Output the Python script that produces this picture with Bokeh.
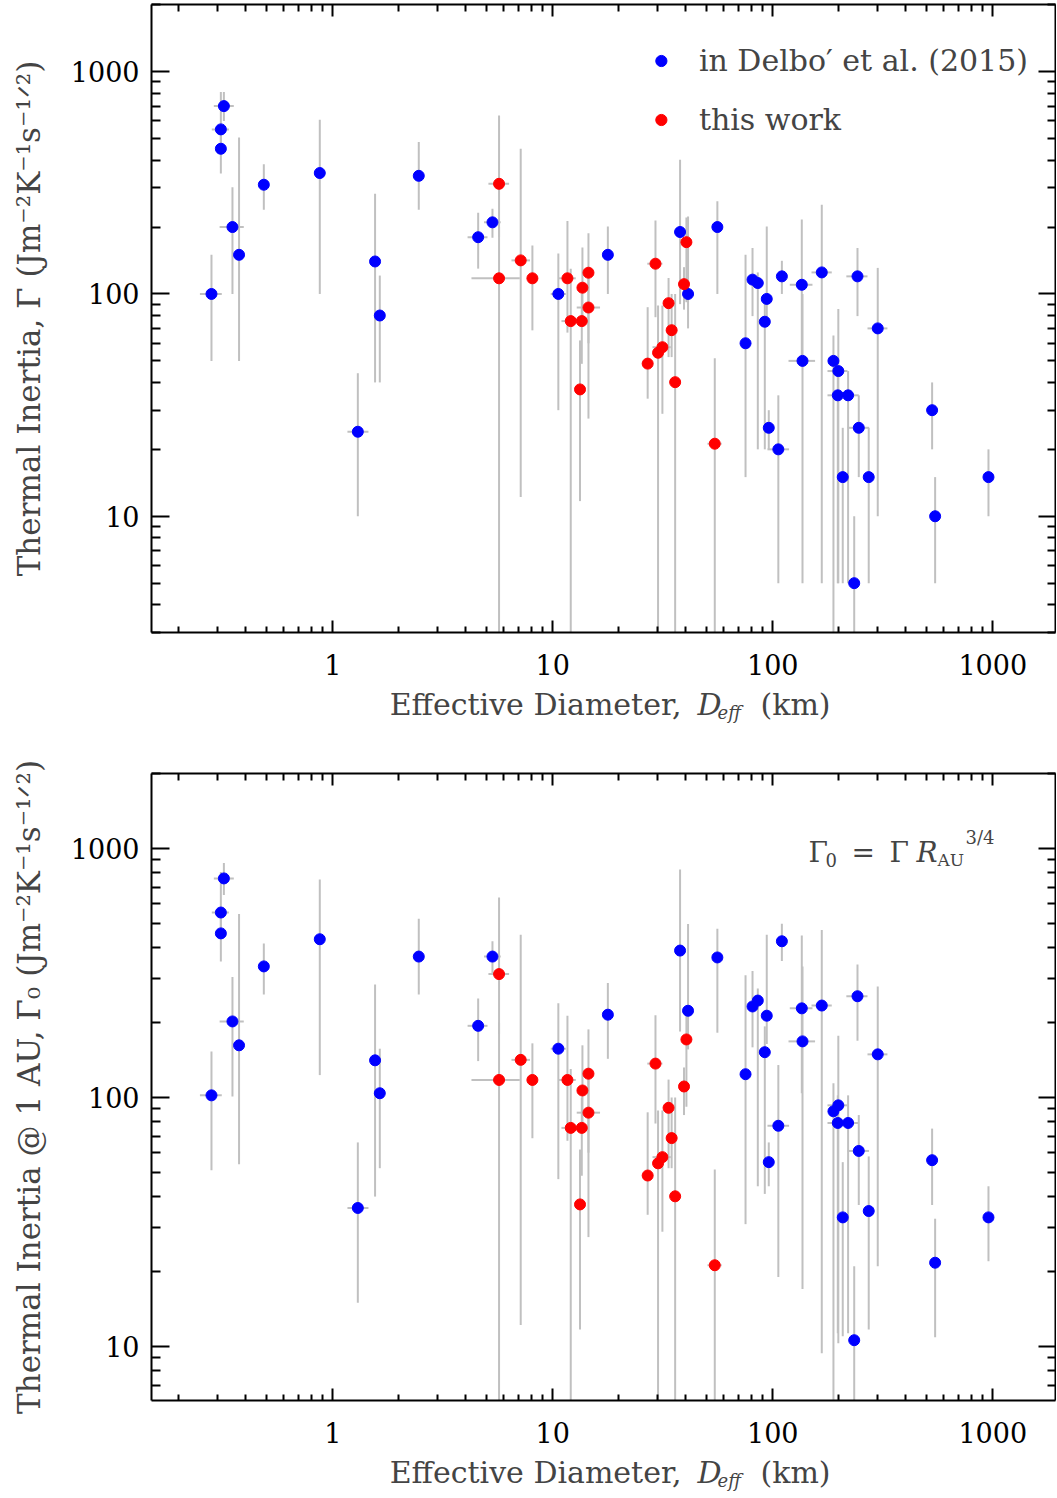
import math
from bokeh.plotting import figure
from bokeh.models import (Range1d, LogAxis, FixedTicker, BasicTickFormatter, Label,
                          Legend, LegendItem, ColumnDataSource)
from bokeh.layouts import column
from bokeh.embed import file_html
from bokeh.resources import INLINE

# ---------------- data ----------------
# Delbo' et al. (2015) sample: diameter (km), thermal inertia, error ranges
blue_d = [0.281, 0.31, 0.31, 0.32, 0.35, 0.375, 0.486, 0.873, 1.30, 1.557, 1.636, 2.46,
          4.58, 5.32, 10.6, 17.8, 37.9, 41.2, 56.0, 75.2, 80.9, 85.5, 93.9, 92.0, 95.9,
          106, 110, 135.5, 136.5, 167, 188.7, 198.6, 197.5, 220, 246, 208, 273, 234.5,
          300, 242.7, 530, 547, 956]
blue_dlo = [0.249, 0.282, 0.31, 0.288, 0.306, 0.375, 0.486, 0.873, 1.166, 1.557, 1.636, 2.46,
            4.10, 4.87, 9.79, 17.8, 37.9, 41.2, 56.0, 75.2, 80.9, 85.5, 93.9, 92.0, 95.9,
            94.6, 110, 119.5, 117.9, 150, 179, 177.3, 177.3, 220, 218.6, 208, 273, 234.5,
            269.5, 216, 530, 547, 956]
blue_dhi = [0.313, 0.337, 0.31, 0.355, 0.394, 0.375, 0.486, 0.873, 1.453, 1.557, 1.636, 2.46,
            5.05, 5.80, 11.46, 17.8, 37.9, 41.2, 56.0, 75.2, 80.9, 85.5, 93.9, 92.0, 95.9,
            118.6, 110, 151.5, 155.7, 185.4, 199, 218.6, 197.5, 246, 274, 208, 273, 234.5,
            332, 269.5, 530, 547, 956]
blue_g = [100, 550, 450, 700, 200, 150, 310, 350, 24, 140, 80, 340, 180, 210, 100, 150, 190,
          100, 200, 60, 116, 112, 95, 75, 25, 20, 120, 110, 50, 125, 50, 45, 35, 35, 25, 15,
          15, 5, 70, 120, 30, 10, 15]
blue_glo = [50, 450, 348, 600, 100, 50, 239, 100, 10, 40, 40, 239, 130, 179, 30, 100, 90, 70,
            100, 15, 79.5, 20, 73, 20, 20, 5, 100, 50, 5, 5, 1, 5, 5, 5, 15, 5, 5, 1, 10, 79.5,
            20, 5, 10]
blue_ghi = [150, 809, 560, 809, 302, 505, 383, 608, 44, 282, 121, 482, 232, 242, 152, 201, 402,
            223, 261, 150, 161, 125, 201, 95, 30, 35, 141, 216, 100, 252, 65, 85.5, 45, 45, 35,
            25, 25, 10, 131, 161, 40, 15, 20]
# same objects, thermal inertia normalised to 1 AU
blue_g0 = [102, 553, 456, 758, 202, 162, 336, 432, 36, 141, 104, 368, 194, 368, 157, 215, 389,
           223, 365, 124, 232, 245, 213, 152, 55, 77, 424, 228, 168, 234, 88, 93, 79, 79, 61,
           33, 35, 10.6, 149, 255, 56, 21.7, 33]
blue_g0lo = [51, 450, 352, 650, 101, 54, 259, 123, 15, 40, 52, 259, 140, 314, 47, 143, 184, 156,
             182, 31, 159, 44, 164, 41, 44, 19, 353, 104, 17, 9.4, 1.8, 10.3, 11.3, 11.3, 37, 11,
             11.7, 2.1, 21, 169, 37, 10.9, 22]
blue_g0hi = [153, 805, 566, 875, 305, 545, 415, 750, 66, 284, 157, 522, 250, 424, 239, 288, 824,
             497, 476, 310, 322, 274, 450, 193, 66, 135, 498, 447, 336, 471, 114, 177, 102, 102,
             85, 55, 58, 21, 279, 342, 75, 32.6, 44]

# this work
red_d = [5.70, 5.70, 7.15, 8.08, 11.66, 12.07, 13.55, 13.3, 13.64, 14.53, 14.53, 29.3, 40.5,
         39.5, 33.6, 34.7, 31.5, 30.1, 27.0, 36.0, 54.5]
red_dlo = [5.10, 4.27, 6.49, 8.08, 10.68, 10.95, 13.55, 13.3, 13.64, 14.53, 12.85, 26.9, 40.5,
           39.5, 33.6, 34.7, 28.4, 30.1, 25.6, 36.0, 50.5]
red_dhi = [6.33, 7.08, 7.88, 8.08, 12.72, 12.33, 13.55, 13.3, 13.64, 14.53, 16.4, 31.5, 40.5,
           39.5, 33.6, 34.7, 34.4, 30.1, 28.6, 36.0, 58.6]
red_g = [313, 117.6, 141.6, 117.6, 117.6, 75.5, 75.5, 37.2, 106.7, 124.6, 86.9, 136.8, 171,
         110.7, 90.9, 68.7, 57.6, 54.4, 48.6, 40.1, 21.2]
red_glo = [180, 1, 12.2, 68.6, 67, 1, 48.5, 11.7, 75, 27.5, 60, 78.6, 91.8, 85, 52, 52, 28.9, 1,
           33.8, 1, 1]
red_ghi = [635, 200, 450, 165, 213, 130, 100, 61.8, 162, 187.7, 120, 214, 221, 132, 118, 100,
           88.7, 88.7, 87.2, 100, 51.4]

x_major = [0.1, 1, 10, 100, 1000]
y_major = [1, 10, 100, 1000]
x_labels = {1: "1", 10: "10", 100: "100", 1000: "1000"}
y_labels = {10: "10", 100: "100", 1000: "1000"}

FONT = "DejaVu Serif"
ERR = "#c0c0c0"
W = 1056
XR = (0.15, 1928)


def minors(lo_exp, hi_exp):
    return [k * 10.0 ** e for e in range(lo_exp, hi_exp + 1) for k in range(2, 10)]


def style_axis(ax, ticks, minor, major_in, minor_in, labels=None):
    ax.ticker = FixedTicker(ticks=ticks, minor_ticks=minor)
    ax.formatter = BasicTickFormatter()
    ax.major_tick_in = major_in
    ax.major_tick_out = 0
    ax.minor_tick_in = minor_in
    ax.minor_tick_out = 0
    ax.axis_line_width = 2
    ax.major_tick_line_width = 2
    ax.minor_tick_line_width = 2
    ax.axis_line_color = "black"
    ax.major_tick_line_color = "black"
    ax.minor_tick_line_color = "black"
    if labels is None:
        ax.major_label_text_font_size = "0px"
        ax.major_label_text_color = None
        ax.major_label_standoff = 0
    else:
        ax.major_label_overrides = labels
        ax.major_label_text_font = FONT
        ax.major_label_text_font_size = "27px"
        ax.major_label_text_color = "black"


def make_panel(height, b_top, b_bottom, yr, ycol, ylo, yhi, ylabel):
    p = figure(width=W, height=height, x_axis_type="log", y_axis_type="log",
               x_range=Range1d(*XR), y_range=Range1d(*yr),
               output_backend="svg", toolbar_location=None,
               min_border_left=151, min_border_right=1,
               min_border_top=b_top, min_border_bottom=b_bottom)
    p.grid.visible = False
    p.outline_line_color = None
    p.background_fill_color = "white"
    p.border_fill_color = "white"

    style_axis(p.below[0], x_major, minors(-1, 3), 12, 6, x_labels)
    p.below[0].major_label_standoff = 21
    style_axis(p.left[0], y_major, minors(0, 3), 18, 9, y_labels)
    p.left[0].major_label_standoff = 12
    p.left[0].axis_label = ylabel
    p.left[0].axis_label_text_font = FONT
    p.left[0].axis_label_text_font_size = "31px"
    p.left[0].axis_label_text_font_style = "normal"
    p.left[0].axis_label_standoff = 21

    top_ax = LogAxis()
    style_axis(top_ax, x_major, minors(-1, 3), 12, 7)
    p.add_layout(top_ax, "above")
    right_ax = LogAxis()
    style_axis(right_ax, y_major, minors(0, 3), 17, 8)
    p.add_layout(right_ax, "right")

    bsrc = ColumnDataSource(dict(d=blue_d, dlo=blue_dlo, dhi=blue_dhi,
                                 g=ycol, lo=ylo, hi=yhi))
    rsrc = ColumnDataSource(dict(d=red_d, dlo=red_dlo, dhi=red_dhi,
                                 g=red_g, lo=red_glo, hi=red_ghi))
    for src in (bsrc, rsrc):
        p.segment(x0="d", y0="lo", x1="d", y1="hi", source=src,
                  line_color=ERR, line_width=2)
        p.segment(x0="dlo", y0="g", x1="dhi", y1="g", source=src,
                  line_color=ERR, line_width=2)
    rb = p.scatter("d", "g", source=bsrc, size=11, fill_color="#0000ff",
                   line_color="#0000ff")
    rr = p.scatter("d", "g", source=rsrc, size=11, fill_color="#ff0000",
                   line_color="#ff0000")
    return p, rb, rr


def label_strip(height, base):
    """A thin strip holding the x-axis title; its frame is aligned with the panels'
    frames (151..1055 px), so x is given in page pixels."""
    s = figure(width=W, height=height, x_range=Range1d(151, 1055), y_range=Range1d(height, 0),
               output_backend="svg", toolbar_location=None, min_border=0,
               x_axis_location=None, y_axis_location=None)
    s.grid.visible = False
    s.outline_line_color = None
    s.border_fill_color = "white"
    s.add_layout(Label(x=681, y=base, text="Effective Diameter,", text_font=FONT,
                       text_font_size="30px", text_align="right", text_baseline="alphabetic"))
    s.add_layout(Label(x=697, y=base, text="D", text_font=FONT, text_font_size="30px",
                       text_font_style="italic", text_baseline="alphabetic"))
    s.add_layout(Label(x=717, y=base + 8, text="eff", text_font=FONT,
                       text_font_size="18px", text_font_style="italic",
                       text_baseline="alphabetic"))
    s.add_layout(Label(x=760, y=base, text="(km)", text_font=FONT,
                       text_font_size="30px", text_baseline="alphabetic"))
    return s


# ---------------- top panel ----------------
p1, rb1, rr1 = make_panel(684, 4, 52, (3, 2005), blue_g, blue_glo, blue_ghi,
                          "Thermal Inertia, Γ (Jm⁻²K⁻¹s⁻¹ᐟ²)")
legend = Legend(items=[LegendItem(label="in Delbo′ et al. (2015)", renderers=[rb1]),
                       LegendItem(label="this work", renderers=[rr1])],
                location="top_right", label_text_font=FONT, label_text_font_size="30px",
                glyph_width=28, glyph_height=59, label_standoff=24, spacing=0,
                padding=16, margin=27, border_line_color=None, background_fill_alpha=0)
p1.add_layout(legend)
s1 = label_strip(56, 20)

# ---------------- bottom panel ----------------
p2, rb2, rr2 = make_panel(712, 33, 52, (6.07, 2000), blue_g0, blue_g0lo, blue_g0hi,
                          "Thermal Inertia @ 1 AU, Γ₀ (Jm⁻²K⁻¹s⁻¹ᐟ²)")
# annotation inside the lower panel, placed in canvas pixels
FT2, FH2 = 33, 627
ly0, ly1 = math.log10(6.07), math.log10(2000)
lx0, lx1 = math.log10(XR[0]), math.log10(XR[1])


def ax_x(px):
    return 10 ** (lx0 + (px - 151) / 904 * (lx1 - lx0))


def ax_y(py):
    return 10 ** (ly1 - (py - FT2) / FH2 * (ly1 - ly0))


ann = [("Γ", 808, 112, "28px", "normal"), ("0", 825, 119, "18px", "normal"),
       ("=", 851, 112, "28px", "normal"), ("Γ", 889, 112, "28px", "normal"),
       ("R", 916, 112, "28px", "italic"), ("AU", 937, 119, "17px", "normal"),
       ("3/4", 965, 97, "18px", "normal")]
for t, px, py, fs, st in ann:
    p2.add_layout(Label(x=ax_x(px), y=ax_y(py), text=t, text_font=FONT, text_font_size=fs,
                        text_font_style=st, text_baseline="alphabetic"))
s2 = label_strip(46, 20)

layout = column(p1, s1, p2, s2)
open("out.html", "w").write(file_html(layout, INLINE))
